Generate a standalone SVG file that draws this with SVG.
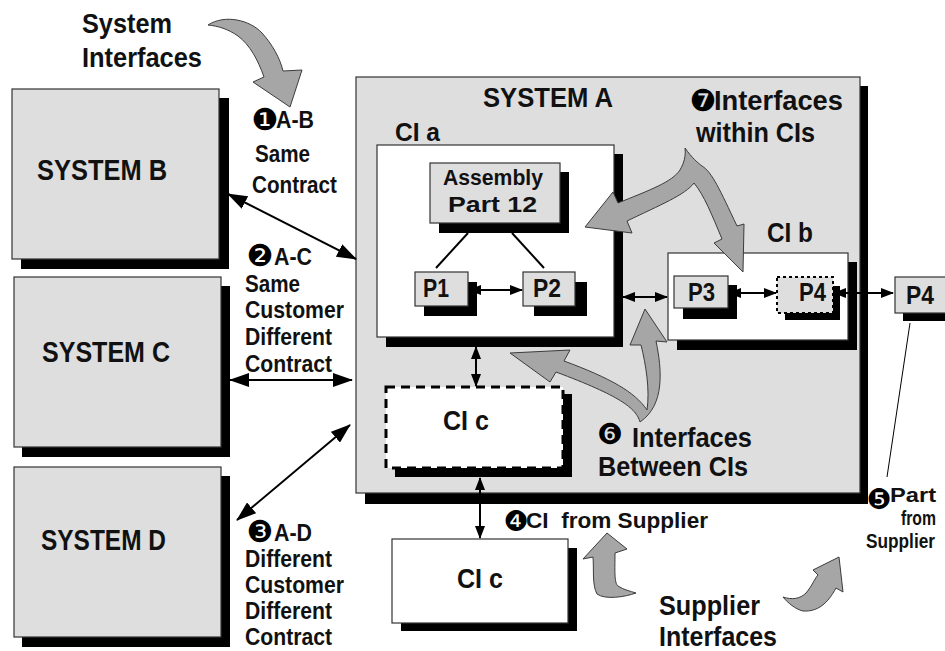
<svg xmlns="http://www.w3.org/2000/svg" width="945" height="651" viewBox="0 0 945 651">
<defs>
<style>
.box{fill:#dedede;stroke:#333;stroke-width:1.2}
.wbox{fill:#fff;stroke:#333;stroke-width:1.2}
.sh{fill:#000}
.t{font-family:"Liberation Sans",Arial,sans-serif;font-weight:bold;fill:#111}
.n{font-family:"DejaVu Sans",sans-serif;fill:#000;text-anchor:middle}
.ga{fill:#a6a6a6;stroke:#3c3c3c;stroke-width:1}
.ln{stroke:#000;stroke-width:2;fill:none}
.big{marker-start:url(#ah);marker-end:url(#ah)}
.sm{marker-start:url(#as);marker-end:url(#as)}
</style>
<marker id="ah" markerUnits="userSpaceOnUse" markerWidth="20" markerHeight="14" refX="19" refY="7" orient="auto-start-reverse"><path d="M0,0 L20,7 L0,14 Z" fill="#000"/></marker>
<marker id="as" markerUnits="userSpaceOnUse" markerWidth="13" markerHeight="10" refX="12" refY="5" orient="auto-start-reverse"><path d="M0,0 L13,5 L0,10 Z" fill="#000"/></marker>
</defs>
<rect width="945" height="651" fill="#fff"/>

<g id="system-b"><rect class="sh" x="21" y="98" width="208" height="171"/><rect class="box" x="12" y="89" width="207" height="170"/><text class="t" x="37" y="180" font-size="29" textLength="130" lengthAdjust="spacingAndGlyphs">SYSTEM B</text></g>
<g id="system-c"><rect class="sh" x="22" y="286" width="208" height="171"/><rect class="box" x="14" y="277" width="207" height="170"/><text class="t" x="42" y="362" font-size="29" textLength="128" lengthAdjust="spacingAndGlyphs">SYSTEM C</text></g>
<g id="system-d"><rect class="sh" x="22" y="476" width="208" height="171"/><rect class="box" x="14" y="467" width="207" height="170"/><text class="t" x="41" y="550" font-size="29" textLength="125" lengthAdjust="spacingAndGlyphs">SYSTEM D</text></g>

<g id="system-a"><rect class="sh" x="365" y="86" width="503" height="418"/><rect class="box" x="356" y="77" width="504" height="416"/><text class="t" x="483" y="107" font-size="28" textLength="130" lengthAdjust="spacingAndGlyphs">SYSTEM A</text></g>

<g id="ci-a"><text class="t" x="395" y="141" font-size="26" textLength="45" lengthAdjust="spacingAndGlyphs">CI a</text><rect class="sh" x="386" y="154" width="237" height="193"/><rect class="wbox" x="377" y="145" width="237" height="192"/></g>
<g id="assembly"><rect class="sh" x="439" y="172" width="130" height="61"/><rect class="box" x="430" y="163" width="130" height="60"/><text class="t" x="443" y="185" font-size="22" textLength="100" lengthAdjust="spacingAndGlyphs">Assembly</text><text class="t" x="448" y="212" font-size="22" textLength="89" lengthAdjust="spacingAndGlyphs">Part 12</text></g>
<g id="p1"><rect class="sh" x="424" y="282" width="53" height="34"/><rect class="box" x="415" y="272" width="53" height="34"/><text class="t" x="423" y="297" font-size="25" textLength="26" lengthAdjust="spacingAndGlyphs">P1</text></g>
<g id="p2"><rect class="sh" x="534" y="282" width="53" height="34"/><rect class="box" x="523" y="272" width="52" height="34"/><text class="t" x="533" y="297" font-size="25" textLength="28" lengthAdjust="spacingAndGlyphs">P2</text></g>

<g id="ci-b"><text class="t" x="767" y="242" font-size="27" textLength="46" lengthAdjust="spacingAndGlyphs">CI b</text><rect class="sh" x="677" y="262" width="180" height="88"/><rect class="wbox" x="668" y="253" width="180" height="87"/></g>
<g id="p3"><rect class="sh" x="683" y="285" width="54" height="34"/><rect class="box" x="674" y="276" width="54" height="32"/><text class="t" x="688" y="301" font-size="25" textLength="27" lengthAdjust="spacingAndGlyphs">P3</text></g>
<g id="p4-in"><rect class="sh" x="785" y="286" width="55" height="34"/><rect x="777" y="277" width="56" height="36" fill="#dedede" stroke="#000" stroke-width="2" stroke-dasharray="3,3"/><text class="t" x="799" y="301" font-size="25" textLength="27" lengthAdjust="spacingAndGlyphs">P4</text></g>

<g id="ci-c-in"><rect class="sh" x="395" y="394" width="177" height="83"/><rect x="386" y="387" width="177" height="81" fill="#fff" stroke="#000" stroke-width="3" stroke-dasharray="9,6"/><text class="t" x="443" y="430" font-size="28" textLength="46" lengthAdjust="spacingAndGlyphs">CI c</text></g>

<g id="p4-ext"><rect class="sh" x="903" y="285" width="60" height="36"/><rect class="box" x="895" y="277" width="60" height="36"/><text class="t" x="906" y="304" font-size="25" textLength="28" lengthAdjust="spacingAndGlyphs">P4</text></g>

<g id="ci-c-sup"><rect class="sh" x="401" y="548" width="176" height="83"/><rect class="wbox" x="392" y="539" width="176" height="84"/><text class="t" x="457" y="588" font-size="28" textLength="46" lengthAdjust="spacingAndGlyphs">CI c</text></g>

<g id="connectors">
<line class="ln big" x1="228" y1="194" x2="356" y2="259"/>
<line class="ln big" x1="230" y1="380" x2="352" y2="380"/>
<line class="ln big" x1="237" y1="520" x2="350" y2="425"/>
<line class="ln sm" x1="469" y1="290" x2="522" y2="290"/>
<line class="ln sm" x1="623" y1="297" x2="667" y2="297"/>
<line class="ln sm" x1="729" y1="293" x2="776" y2="293"/>
<line class="ln sm" x1="834" y1="293" x2="893" y2="293"/>
<line class="ln sm" x1="476" y1="347" x2="476" y2="386"/>
<line class="ln sm" x1="480" y1="478" x2="480" y2="538"/>
<line x1="468" y1="233" x2="436" y2="268" stroke="#000" stroke-width="2"/>
<line x1="512" y1="233" x2="544" y2="268" stroke="#000" stroke-width="2"/>
<line x1="910" y1="323" x2="887" y2="477" stroke="#000" stroke-width="1"/>
</g>

<g id="gray-arrows">
<path class="ga" d="M208,25 C225,14 250,20 262,33 C272,44 280,58 283,71 L302,70 L290,107 L253,82 L264,77 C258,60 250,45 238,36 C228,29 218,26 208,25 Z"/>
<path class="ga" d="M685,148 C692,158 698,163 702,166 C712,172 720,190 737,226 L744,224 L743,272 L714,243 L722,239 C712,215 704,195 694,183 C685,195 660,205 627,221 L632,233 L585,227 L613,192 L618,203 C650,190 672,182 680,170 C684,163 686,156 685,148 Z"/>
<path class="ga" d="M640,422 C636,408 620,396 556,372 L550,382 L510,353 L570,350 L564,361 C610,378 635,392 647,410 C650,390 646,365 641,345 L630,345 L645,309 L667,342 L656,341 C662,370 665,405 640,422 Z"/>
<path class="ga" d="M607,533 L627,549 L615,553 C615,570 614,583 618,586 C624,590 630,591 636,593 C625,597 605,600 597,594 C592,585 594,570 593,557 L583,559 Z"/>
<path class="ga" d="M839,557 L843,592 L836,588 C828,603 818,612 803,611 C795,609 788,603 783,597 C792,600 800,599 806,593 C812,586 815,578 818,575 L813,570 Z"/>
</g>

<g id="labels">
<text class="t" x="82" y="33" font-size="28" textLength="90" lengthAdjust="spacingAndGlyphs">System</text>
<text class="t" x="82" y="67" font-size="28" textLength="120" lengthAdjust="spacingAndGlyphs">Interfaces</text>

<text class="n" x="265" y="130" font-size="30">❶</text>
<text class="t" x="276" y="128" font-size="23" textLength="38" lengthAdjust="spacingAndGlyphs">A-B</text>
<text class="t" x="255" y="162" font-size="23" textLength="55" lengthAdjust="spacingAndGlyphs">Same</text>
<text class="t" x="252" y="193" font-size="23" textLength="85" lengthAdjust="spacingAndGlyphs">Contract</text>

<text class="n" x="260" y="266" font-size="30">❷</text>
<text class="t" x="274" y="265" font-size="23" textLength="38" lengthAdjust="spacingAndGlyphs">A-C</text>
<text class="t" x="245" y="292" font-size="23" textLength="55" lengthAdjust="spacingAndGlyphs">Same</text>
<text class="t" x="245" y="318" font-size="23" textLength="99" lengthAdjust="spacingAndGlyphs">Customer</text>
<text class="t" x="245" y="345" font-size="23" textLength="87" lengthAdjust="spacingAndGlyphs">Different</text>
<text class="t" x="245" y="372" font-size="23" textLength="87" lengthAdjust="spacingAndGlyphs">Contract</text>

<text class="n" x="260" y="542" font-size="30">❸</text>
<text class="t" x="274" y="541" font-size="23" textLength="38" lengthAdjust="spacingAndGlyphs">A-D</text>
<text class="t" x="245" y="567" font-size="23" textLength="87" lengthAdjust="spacingAndGlyphs">Different</text>
<text class="t" x="245" y="593" font-size="23" textLength="99" lengthAdjust="spacingAndGlyphs">Customer</text>
<text class="t" x="245" y="619" font-size="23" textLength="87" lengthAdjust="spacingAndGlyphs">Different</text>
<text class="t" x="245" y="645" font-size="23" textLength="87" lengthAdjust="spacingAndGlyphs">Contract</text>

<text class="n" x="703" y="111" font-size="30">❼</text>
<text class="t" x="714" y="110" font-size="28" textLength="129" lengthAdjust="spacingAndGlyphs">Interfaces</text>
<text class="t" x="696" y="142" font-size="28" textLength="119" lengthAdjust="spacingAndGlyphs">within CIs</text>

<text class="n" x="610" y="444" font-size="29">❻</text>
<text class="t" x="632" y="447" font-size="28" textLength="120" lengthAdjust="spacingAndGlyphs">Interfaces</text>
<text class="t" x="598" y="476" font-size="28" textLength="150" lengthAdjust="spacingAndGlyphs">Between CIs</text>

<text class="n" x="516" y="531" font-size="28">❹</text>
<text class="t" x="526" y="528" font-size="22" textLength="182" lengthAdjust="spacingAndGlyphs" xml:space="preserve">CI  from Supplier</text>

<text class="n" x="879" y="509" font-size="28">❺</text>
<text class="t" x="890" y="502" font-size="20" textLength="46" lengthAdjust="spacingAndGlyphs">Part</text>
<text class="t" x="901" y="525" font-size="20" textLength="35" lengthAdjust="spacingAndGlyphs">from</text>
<text class="t" x="866" y="548" font-size="20" textLength="69" lengthAdjust="spacingAndGlyphs">Supplier</text>

<text class="t" x="659" y="615" font-size="28" textLength="101" lengthAdjust="spacingAndGlyphs">Supplier</text>
<text class="t" x="659" y="646" font-size="28" textLength="118" lengthAdjust="spacingAndGlyphs">Interfaces</text>
</g>
</svg>
